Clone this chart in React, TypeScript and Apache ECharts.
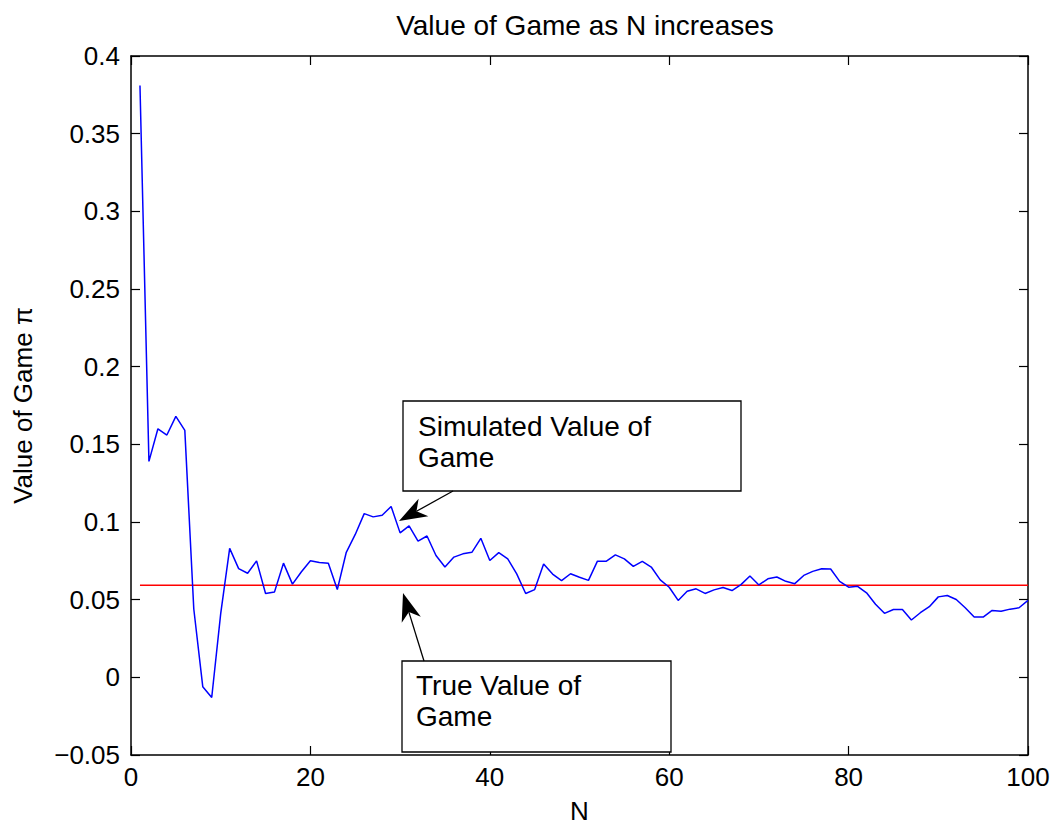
import React, { useEffect, useRef } from "react";
import * as echarts from "echarts";

const titleText = "Value of Game as N increases";
const xName = "N";
const yName = "Value of Game \u03c0";
const nValues: number[] = Array.from({ length: 100 }, (_, i) => i + 1);
const simulated: number[] = [
  0.381, 0.139, 0.16, 0.156, 0.168, 0.159, 0.044, -0.006, -0.013, 0.041,
  0.083, 0.07, 0.067, 0.075, 0.054, 0.055, 0.0735, 0.06, 0.068, 0.075,
  0.074, 0.0735, 0.0565, 0.0805, 0.092, 0.1054, 0.1033, 0.1043, 0.11, 0.093,
  0.0975, 0.0877, 0.091, 0.0784, 0.071, 0.0774, 0.0795, 0.0805, 0.0895, 0.0752,
  0.0803, 0.0763, 0.0666, 0.054, 0.0565, 0.0729, 0.0665, 0.0622, 0.0667, 0.0644,
  0.0624, 0.0748, 0.0748, 0.0788, 0.0763, 0.0714, 0.0746, 0.071, 0.0627, 0.058,
  0.0495, 0.0554, 0.057, 0.054, 0.0563, 0.0578, 0.0559, 0.0597, 0.0652, 0.0595,
  0.0634, 0.0646, 0.0618, 0.0603, 0.0656, 0.0682, 0.0699, 0.0697, 0.0618, 0.058,
  0.0586, 0.0544, 0.047, 0.0412, 0.0437, 0.0437, 0.0369, 0.0416, 0.0455, 0.0518,
  0.0527, 0.0501, 0.0448, 0.0388, 0.0388, 0.0431, 0.0425, 0.0439, 0.0448, 0.0495,
];
const trueValue = 0.0593;
const trueRange: number[] = [1, 100];
const annotationSim: string[] = ["Simulated Value of", "Game"];
const annotationTrue: string[] = ["True Value of", "Game"];

const FONT = "Liberation Sans, Arial, Helvetica, sans-serif";

function arrow(sx: number, sy: number, tx: number, ty: number) {
  const dx = tx - sx;
  const dy = ty - sy;
  const len = Math.sqrt(dx * dx + dy * dy);
  const ux = dx / len;
  const uy = dy / len;
  const px = -uy;
  const py = ux;
  const L = 28;
  const W = 10;
  const notch = 20;
  return [
    {
      type: "line",
      shape: { x1: sx, y1: sy, x2: tx - ux * notch, y2: ty - uy * notch },
      style: { stroke: "#000", lineWidth: 1.3 },
      z: 100,
    },
    {
      type: "polygon",
      shape: {
        points: [
          [tx, ty],
          [tx - ux * L + px * W, ty - uy * L + py * W],
          [tx - ux * notch, ty - uy * notch],
          [tx - ux * L - px * W, ty - uy * L - py * W],
        ],
      },
      style: { fill: "#000" },
      z: 100,
    },
  ];
}

function box(x: number, y: number, w: number, h: number, lines: string[], tx: number, ty: number) {
  return [
    {
      type: "rect",
      shape: { x, y, width: w, height: h },
      style: { fill: "#fff", stroke: "#000", lineWidth: 1.3 },
      z: 99,
    },
    {
      type: "text",
      x: tx,
      y: ty,
      style: {
        text: lines.join("\n"),
        font: `28px ${FONT}`,
        fill: "#000",
        lineHeight: 31,
        textVerticalAlign: "top",
      },
      z: 101,
    },
  ];
}

function fmt(v: number) {
  const r = Math.round(v * 100) / 100;
  if (r < 0) return "\u2212" + String(-r);
  return String(r);
}

export default function App() {
  const ref = useRef<HTMLDivElement>(null);
  useEffect(() => {
    if (!ref.current) return;
    const chart = echarts.init(ref.current, null, { renderer: "svg" });
    const axisLine = { show: true, onZero: false, lineStyle: { color: "#000", width: 1.5 } };
    const tick = { show: true, inside: true, length: 9, lineStyle: { color: "#000", width: 1.2 } };
    const label = { color: "#000", fontSize: 26, fontFamily: FONT };
    chart.setOption({
      animation: false,
      backgroundColor: "#fff",
      title: {
        text: titleText,
        left: 580,
        textAlign: "center",
        top: 6,
        textStyle: { fontSize: 28, fontWeight: "normal", color: "#000", fontFamily: FONT },
      },
      grid: { left: 131, right: 26, top: 56, bottom: 67, containLabel: false },
      xAxis: [
        {
          type: "value",
          min: 0,
          max: 100,
          interval: 20,
          position: "bottom",
          axisLine,
          axisTick: tick,
          splitLine: { show: false },
          axisLabel: { ...label, margin: 9 },
          name: xName,
          nameLocation: "middle",
          nameGap: 43,
          nameTextStyle: { ...label },
        },
        {
          type: "value",
          min: 0,
          max: 100,
          interval: 20,
          position: "top",
          axisLine,
          axisTick: tick,
          splitLine: { show: false },
          axisLabel: { show: false },
        },
      ],
      yAxis: [
        {
          type: "value",
          min: -0.05,
          max: 0.4,
          interval: 0.05,
          position: "left",
          axisLine,
          axisTick: tick,
          splitLine: { show: false },
          axisLabel: { ...label, margin: 11, formatter: fmt },
          name: yName,
          nameLocation: "middle",
          nameRotate: 90,
          nameGap: 95,
          nameTextStyle: { ...label },
        },
        {
          type: "value",
          min: -0.05,
          max: 0.4,
          interval: 0.05,
          position: "right",
          axisLine,
          axisTick: tick,
          splitLine: { show: false },
          axisLabel: { show: false },
        },
      ],
      series: [
        {
          type: "line",
          data: nValues.map((n, i) => [n, simulated[i]]),
          showSymbol: false,
          lineStyle: { color: "#0000ff", width: 1.5 },
          itemStyle: { color: "#0000ff" },
          z: 3,
        },
        {
          type: "line",
          data: trueRange.map((n) => [n, trueValue]),
          showSymbol: false,
          lineStyle: { color: "#ff0000", width: 1.5 },
          itemStyle: { color: "#ff0000" },
          z: 2,
        },
      ],
      graphic: [
        ...box(403, 401, 338, 90, annotationSim, 418, 411),
        ...arrow(453, 491, 399, 521),
        ...box(402, 661, 269, 91, annotationTrue, 416, 670),
        ...arrow(424, 661, 403, 593),
      ],
    });
    return () => chart.dispose();
  }, []);
  return (
    <div
      ref={ref}
      style={{ position: "fixed", left: 0, top: 0, width: 1054, height: 829, background: "#fff" }}
    />
  );
}
